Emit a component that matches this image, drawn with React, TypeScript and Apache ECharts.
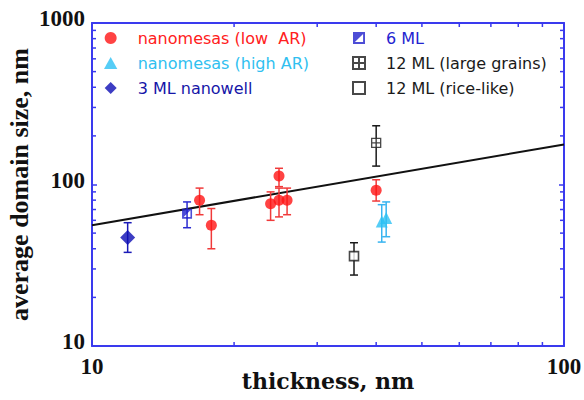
import React, { useEffect, useRef } from "react";
import * as echarts from "echarts";

// ---- data ----
const lowArX = [16.9, 17.9, 23.9, 24.9, 24.9, 25.9, 40.0];
const lowArY = [80, 56, 76, 113, 80, 80, 92];
const lowArLo = [65, 40, 60, 97, 63, 65, 79];
const lowArHi = [95, 71, 90, 126, 95, 95, 107];

const highArX = [41.1, 42.0];
const highArY = [59, 62];
const highArLo = [44, 47.5];
const highArHi = [75, 78];

const wellX = [11.9];
const wellY = [47];
const wellLo = [38];
const wellHi = [58];

const ml6X = [15.9];
const ml6Y = [66];
const ml6Lo = [54];
const ml6Hi = [78];

const ml12LargeX = [40.0];
const ml12LargeY = [181];
const ml12LargeLo = [130];
const ml12LargeHi = [231];

const ml12RiceX = [35.9];
const ml12RiceY = [36];
const ml12RiceLo = [27.5];
const ml12RiceHi = [43.6];

const fitX = [10, 100];
const fitY = [56, 177];

const xMinorTicks = [20, 30, 40, 50, 60, 70, 80, 90];
const yMinorTicks = [20, 30, 40, 50, 60, 70, 80, 90, 200, 300, 400, 500, 600, 700, 800, 900];

const legendLeft = ["nanomesas (low  AR)", "nanomesas (high AR)", "3 ML nanowell"];
const legendRight = ["6 ML", "12 ML (large grains)", "12 ML (rice-like)"];

const AXIS = "#3a3aee";

const P_TRI = "path://M5,0L10,9H0Z";
const P_DIAMOND = "path://M5,0L10,5L5,10L0,5Z";
const P_RECT = "path://M0,0H10V10H0Z";
const P_HALF = "path://M0,0H10V10H0Z M1.6,1.6V8.4H8.4V1.6Z M1.6,1.6H8.4L1.6,8.4Z";
const P_GRID = "path://M0,0H10V10H0Z M5,0V10 M0,5H10";

const zip = (xs: number[], ys: number[]) => xs.map((x, i) => [x, ys[i]]);
const zipErr = (xs: number[], lo: number[], hi: number[]) => xs.map((x, i) => [x, lo[i], hi[i]]);

function errSeries(name: string, data: number[][], color: string) {
  return {
    type: "custom",
    name,
    z: 2,
    silent: true,
    encode: { x: 0, y: [1, 2] },
    data,
    renderItem: (_p: any, api: any) => {
      const x = api.value(0);
      const lo = api.coord([x, api.value(1)]);
      const hi = api.coord([x, api.value(2)]);
      const cap = 4;
      const st = { stroke: color, lineWidth: 1.5 };
      return {
        type: "group",
        children: [
          { type: "line", shape: { x1: lo[0], y1: lo[1], x2: hi[0], y2: hi[1] }, style: st },
          { type: "line", shape: { x1: lo[0] - cap, y1: lo[1], x2: lo[0] + cap, y2: lo[1] }, style: st },
          { type: "line", shape: { x1: hi[0] - cap, y1: hi[1], x2: hi[0] + cap, y2: hi[1] }, style: st },
        ],
      };
    },
  };
}

export default function App() {
  const ref = useRef<HTMLDivElement>(null);
  useEffect(() => {
    if (!ref.current) return;
    const chart = echarts.init(ref.current, null, { renderer: "svg" });
    const tickLabel = {
      fontFamily: "Liberation Serif",
      fontWeight: "bold" as const,
      fontSize: 23,
      color: "#111",
      formatter: (v: number) => String(Math.round(v)),
      showMinLabel: true,
      showMaxLabel: true,
    };
    const legendCommon = {
      orient: "vertical",
      top: 25,
      itemWidth: 44,
      itemHeight: 12,
      itemGap: 9,
      textStyle: { fontFamily: "DejaVu Sans", fontSize: 16 },
    };
    const option: any = {
      animation: false,
      backgroundColor: "#fff",
      grid: { left: 92, right: 20, top: 23, bottom: 54, containLabel: false, outerBoundsMode: "none" },
      xAxis: [
        {
          type: "log",
          logBase: 10,
          min: 10,
          max: 100,
          position: "bottom",
          name: "thickness, nm",
          nameLocation: "middle",
          nameGap: 24,
          nameMoveOverlap: false,
          nameTextStyle: {
            fontFamily: "DejaVu Serif",
            fontWeight: "bold",
            fontSize: 22,
            color: "#111",
            verticalAlign: "top",
          },
          axisLine: { lineStyle: { color: AXIS, width: 2 } },
          axisTick: { inside: true, length: 5, lineStyle: { color: AXIS, width: 1.5 } },
          axisLabel: { ...tickLabel, margin: 9, alignMinLabel: "center", alignMaxLabel: "center" },
          splitLine: { show: false },
        },
        {
          type: "log",
          logBase: 10,
          min: 10,
          max: 100,
          position: "top",
          axisLine: { lineStyle: { color: AXIS, width: 2 } },
          axisTick: { inside: true, length: 5, lineStyle: { color: AXIS, width: 1.5 } },
          axisLabel: { show: false },
          splitLine: { show: false },
        },
      ],
      yAxis: [
        {
          type: "log",
          logBase: 10,
          min: 10,
          max: 1000,
          position: "left",
          name: "average domain size, nm",
          nameLocation: "middle",
          nameGap: 60,
          nameMoveOverlap: false,
          nameTextStyle: {
            fontFamily: "Liberation Serif",
            fontWeight: "bold",
            fontSize: 26,
            color: "#111",
          },
          axisLine: { lineStyle: { color: AXIS, width: 2 } },
          axisTick: { inside: true, length: 5, lineStyle: { color: AXIS, width: 1.5 } },
          axisLabel: {
            ...tickLabel,
            margin: 7,
            verticalAlign: "bottom",
            lineHeight: 9,
            verticalAlignMinLabel: "bottom",
            verticalAlignMaxLabel: "bottom",
          },
          splitLine: { show: false },
        },
        {
          type: "log",
          logBase: 10,
          min: 10,
          max: 1000,
          position: "right",
          axisLine: { lineStyle: { color: AXIS, width: 2 } },
          axisTick: { inside: true, length: 5, lineStyle: { color: AXIS, width: 1.5 } },
          axisLabel: { show: false },
          splitLine: { show: false },
        },
      ],
      legend: [
        {
          ...legendCommon,
          left: 99,
          data: [
            { name: legendLeft[0], textStyle: { color: "#ff2020" } },
            { name: legendLeft[1], icon: P_TRI, textStyle: { color: "#30bff0" } },
            { name: legendLeft[2], icon: P_DIAMOND, textStyle: { color: "#1616a8" } },
          ],
        },
        {
          ...legendCommon,
          left: 347,
          data: [
            { name: legendRight[0], textStyle: { color: "#2424d0" } },
            { name: legendRight[1], textStyle: { color: "#1a1a1a" } },
            { name: legendRight[2], icon: P_RECT, textStyle: { color: "#1a1a1a" } },
          ],
        },
      ],
      series: [
        {
          type: "line",
          name: "fit",
          data: zip(fitX, fitY),
          showSymbol: false,
          symbol: "none",
          lineStyle: { color: "#111", width: 2 },
          z: 1,
          silent: true,
        },
        {
          type: "custom",
          name: "xminor",
          silent: true,
          z: 5,
          clip: false,
          data: xMinorTicks.map((v) => [v, 10]),
          encode: { x: 0, y: 1 },
          renderItem: (_p: any, api: any) => {
            const v = api.value(0);
            const b = api.coord([v, 10]);
            const t = api.coord([v, 1000]);
            const st = { stroke: AXIS, lineWidth: 1.5 };
            return {
              type: "group",
              children: [
                { type: "line", shape: { x1: b[0], y1: b[1], x2: b[0], y2: b[1] - 4 }, style: st },
                { type: "line", shape: { x1: t[0], y1: t[1], x2: t[0], y2: t[1] + 4 }, style: st },
              ],
            };
          },
        },
        {
          type: "custom",
          name: "yminor",
          silent: true,
          z: 5,
          clip: false,
          data: yMinorTicks.map((v) => [10, v]),
          encode: { x: 0, y: 1 },
          renderItem: (_p: any, api: any) => {
            const v = api.value(1);
            const l = api.coord([10, v]);
            const r = api.coord([100, v]);
            const st = { stroke: AXIS, lineWidth: 1.5 };
            return {
              type: "group",
              children: [
                { type: "line", shape: { x1: l[0], y1: l[1], x2: l[0] + 4, y2: l[1] }, style: st },
                { type: "line", shape: { x1: r[0], y1: r[1], x2: r[0] - 4, y2: r[1] }, style: st },
              ],
            };
          },
        },
        errSeries("e1", zipErr(lowArX, lowArLo, lowArHi), "#f03a3a"),
        errSeries("e2", zipErr(highArX, highArLo, highArHi), "#38b4f0"),
        errSeries("e3", zipErr(wellX, wellLo, wellHi), "#1a1ab8"),
        errSeries("e4", zipErr(ml6X, ml6Lo, ml6Hi), "#2a2ad0"),
        errSeries("e5", zipErr(ml12LargeX, ml12LargeLo, ml12LargeHi), "#1a1a1a"),
        errSeries("e6", zipErr(ml12RiceX, ml12RiceLo, ml12RiceHi), "#1a1a1a"),
        {
          type: "scatter",
          name: legendLeft[0],
          data: zip(lowArX, lowArY),
          symbol: "circle",
          symbolSize: 11,
          itemStyle: { color: "#ff1414" },
          z: 3,
        },
        {
          type: "scatter",
          name: legendLeft[1],
          data: zip(highArX, highArY),
          symbol: P_TRI,
          symbolSize: 12,
          itemStyle: { color: "#2cc0f4" },
          z: 3,
        },
        {
          type: "scatter",
          name: legendLeft[2],
          data: zip(wellX, wellY),
          symbol: P_DIAMOND,
          symbolSize: 15,
          itemStyle: { color: "#0c0cb4" },
          z: 3,
        },
        {
          type: "scatter",
          name: legendRight[0],
          data: zip(ml6X, ml6Y),
          symbol: P_HALF,
          symbolSize: 10,
          itemStyle: { color: "#2020cc" },
          z: 3,
        },
        {
          type: "scatter",
          name: legendRight[1],
          data: zip(ml12LargeX, ml12LargeY),
          symbol: P_GRID,
          symbolSize: 9,
          itemStyle: { color: "#ffffff", borderColor: "#1a1a1a", borderWidth: 1.3 },
          z: 3,
        },
        {
          type: "scatter",
          name: legendRight[2],
          data: zip(ml12RiceX, ml12RiceY),
          symbol: P_RECT,
          symbolSize: 9,
          itemStyle: { color: "#ffffff", borderColor: "#1a1a1a", borderWidth: 1.6 },
          z: 3,
        },
      ],
    };
    chart.setOption(option);
    return () => chart.dispose();
  }, []);
  return (
    <div
      ref={ref}
      style={{ position: "fixed", left: 0, top: 0, width: 584, height: 400 }}
    />
  );
}
